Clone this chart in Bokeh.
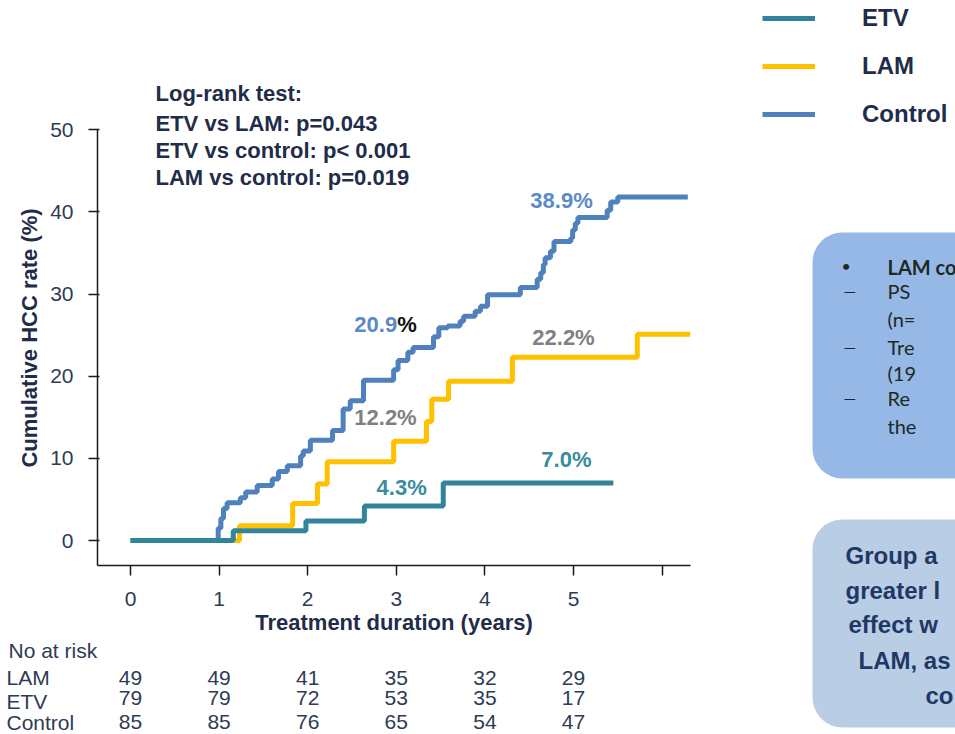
from bokeh.plotting import figure
from bokeh.layouts import row, column
from bokeh.models import (Range1d, Label, LabelSet, ColumnDataSource, BoxAnnotation,
                          Legend, LegendItem, FixedTicker)
from bokeh.core.properties import value
from bokeh.embed import file_html
from bokeh.resources import INLINE

# ---------------- data ----------------
# Cumulative HCC rate (%) step curves: event times (years) and cumulative rates
etv_t = [0, 1.16, 1.98, 2.64, 3.53, 5.45]
etv_y = [0, 1.2, 2.4, 4.2, 7.0, 7.0]

lam_t = [0, 1.23, 1.83, 2.11, 2.22, 2.97, 3.34, 3.40, 3.59, 4.31, 5.72, 6.32]
lam_y = [0, 1.8, 4.5, 6.9, 9.6, 12.1, 14.5, 17.2, 19.4, 22.3, 25.1, 25.1]

ctrl_t = [0, 0.99, 1.02, 1.05, 1.09, 1.24, 1.30, 1.43, 1.60, 1.67, 1.77, 1.92, 1.95,
          2.03, 2.28, 2.40, 2.48, 2.63, 2.97, 3.02, 3.13, 3.19, 3.42, 3.48, 3.58,
          3.72, 3.76, 3.89, 3.95, 4.03, 4.40, 4.59, 4.63, 4.66, 4.68, 4.74, 4.78,
          4.97, 4.99, 5.02, 5.05, 5.38, 5.42, 5.50, 6.29]
ctrl_y = [0, 1.5, 2.7, 3.9, 4.6, 5.2, 5.9, 6.7, 7.5, 8.4, 9.1, 10.3, 10.9,
          12.2, 13.4, 16.0, 17.0, 19.5, 20.8, 21.9, 22.9, 23.5, 24.8, 25.9, 26.1,
          26.7, 27.3, 27.9, 28.5, 29.9, 30.8, 31.8, 32.6, 33.6, 34.4, 35.2, 36.4,
          36.8, 37.8, 38.6, 39.3, 40.2, 41.2, 41.8, 41.8]

x_ticks = [0, 1, 2, 3, 4, 5, 6]
y_ticks = [0, 10, 20, 30, 40, 50]

years = [0, 1, 2, 3, 4, 5]
risk_lam = [49, 49, 41, 35, 32, 29]
risk_etv = [79, 79, 72, 53, 35, 17]
risk_ctrl = [85, 85, 76, 65, 54, 47]

# ---------------- style / layout constants ----------------
FONT = "Liberation Sans"
NAVY = "#1F2D4A"
TICKC = "#2E3B55"
C_CTRL = "#4F81BD"
C_LAM = "#FFC000"
C_ETV = "#31849B"
NAN = float("nan")

W, H = 955, 734
LEFT_W = 758           # width of the left column (chart); right column is the slide side panel
TOP_H = 110            # strip above the chart frame
TABLE_TOP = 637        # where the "No at risk" strip starts
X0, PXY = 130, 88.6    # page x of year 0, pixels per year
Y0, PXP = 542, 8.256   # page y of 0 %, pixels per percent
FR_L, FR_R, FR_B = 97, 690, 567   # chart frame edges on the page


def xdat(px):
    return (px - X0) / PXY


def ydat(py):
    return (Y0 - py) / PXP


def blank(w, h, xr=(0, 1)):
    f = figure(width=w, height=h, output_backend="svg", toolbar_location=None,
               x_range=Range1d(*xr), y_range=Range1d(0, 1),
               x_axis_type=None, y_axis_type=None,
               min_border_left=0, min_border_right=0, min_border_top=0, min_border_bottom=0)
    f.outline_line_color = None
    f.grid.visible = False
    f.background_fill_color = "white"
    f.border_fill_color = "white"
    return f


def lab(fig, x, y, text, color, size="22px", style="bold", align="left", units="data", font=FONT):
    fig.add_layout(Label(x=x, y=y, text=text, x_units=units, y_units=units,
                         text_color=color, text_font_size=size, text_font_style=style,
                         text_align=align, text_baseline="middle", text_font=font))


# ---------------- main chart ----------------
main_h = TABLE_TOP - TOP_H
p = figure(width=LEFT_W, height=main_h, output_backend="svg", toolbar_location=None,
           x_range=Range1d(xdat(FR_L), xdat(FR_R)),
           y_range=Range1d(ydat(FR_B), ydat(TOP_H)),
           min_border_left=FR_L, min_border_right=LEFT_W - FR_R,
           min_border_top=0, min_border_bottom=TABLE_TOP - FR_B)
p.outline_line_color = None
p.grid.visible = False
p.background_fill_color = "white"
p.border_fill_color = "white"

p.xaxis.ticker = FixedTicker(ticks=x_ticks)
p.xaxis.major_label_overrides = {6: ""}
p.yaxis.ticker = FixedTicker(ticks=y_ticks)
p.yaxis.bounds = (ydat(FR_B), 50)
for ax in (p.xaxis, p.yaxis):
    ax.axis_line_color = "#1a1a1a"
    ax.axis_line_width = 1.5
    ax.major_tick_line_color = "#1a1a1a"
    ax.major_tick_line_width = 1.5
    ax.minor_tick_line_color = None
    ax.major_label_text_font = FONT
    ax.major_label_text_font_size = "21px"
    ax.major_label_text_color = TICKC
    ax.axis_label_text_font = FONT
    ax.axis_label_text_font_size = "22px"
    ax.axis_label_text_font_style = "bold"
    ax.axis_label_text_color = NAVY
p.xaxis.major_tick_out = 10
p.xaxis.major_tick_in = 0
p.xaxis.major_label_standoff = 16
p.xaxis.axis_label = "Treatment duration (years)"
p.xaxis.axis_label_standoff = 1
p.yaxis.major_tick_out = 9
p.yaxis.major_tick_in = 2
p.yaxis.major_label_standoff = 15
p.yaxis.axis_label = "Cumulative HCC rate (%)"
p.yaxis.axis_label_standoff = 5

r_ctrl = p.step(ctrl_t, ctrl_y, mode="after", line_color=C_CTRL, line_width=5)
r_lam = p.step(lam_t, lam_y, mode="after", line_color=C_LAM, line_width=5)
r_etv = p.step(etv_t, etv_y, mode="after", line_color=C_ETV, line_width=5)

# log-rank text (first line lives in the strip above)
lab(p, xdat(155), ydat(123), "ETV vs LAM: p=0.043", NAVY)
lab(p, xdat(155), ydat(150), "ETV vs control: p< 0.001", NAVY)
lab(p, xdat(155), ydat(177), "LAM vs control: p=0.019", NAVY)

# percentage annotations
lab(p, 4.865, 41.4, "38.9%", "#5B8AC8", align="center")
lab(p, 3.01, 26.3, "20.9", "#5B8AC8", align="right")
lab(p, 3.01, 26.3, "%", "#111111", align="left")
lab(p, 4.887, 24.7, "22.2%", "#808080", align="center")
lab(p, 2.878, 15.0, "12.2%", "#808080", align="center")
lab(p, 3.06, 6.5, "4.3%", "#3A8C9E", align="center")
lab(p, 4.92, 9.9, "7.0%", "#3A8C9E", align="center")

# ---------------- strip above ----------------
top = blank(LEFT_W, TOP_H)
lab(top, 155, TOP_H - 93, "Log-rank test:", NAVY, units="screen")

# ---------------- number-at-risk strip ----------------
tab_h = H - TABLE_TOP
tab = blank(LEFT_W, tab_h, xr=(xdat(0), xdat(LEFT_W)))
lab(tab, 8, H - 650, "No at risk", TICKC, size="21px", style="normal", units="screen")
lab(tab, 6, H - 677, "LAM", TICKC, size="21px", style="normal", units="screen")
lab(tab, 6, H - 701, "ETV", TICKC, size="21px", style="normal", units="screen")
lab(tab, 6, H - 722, "Control", TICKC, size="21px", style="normal", units="screen")
for vals, py in ((risk_lam, 677), (risk_etv, 697), (risk_ctrl, 721)):
    src = ColumnDataSource(dict(x=years, y=[H - py] * len(years), t=[str(v) for v in vals]))
    tab.add_layout(LabelSet(x="x", y="y", text="t", source=src, y_units="screen",
                            text_align="center", text_baseline="middle",
                            text_font=value(FONT), text_font_size="21px", text_color=TICKC))

# ---------------- right side panel (legend + slide boxes) ----------------
RW = W - LEFT_W
side = blank(RW, H)
g_etv = side.line([NAN], [NAN], line_color=C_ETV, line_width=5)
g_lam = side.line([NAN], [NAN], line_color=C_LAM, line_width=5)
g_ctrl = side.line([NAN], [NAN], line_color=C_CTRL, line_width=5)
legend = Legend(items=[LegendItem(label="ETV", renderers=[g_etv]),
                       LegendItem(label="LAM", renderers=[g_lam]),
                       LegendItem(label="Control", renderers=[g_ctrl])],
                location=(762 - LEFT_W, H - 128), orientation="vertical",
                glyph_width=53, glyph_height=28, label_height=28,
                label_standoff=47, spacing=20, padding=0, margin=0,
                border_line_color=None, background_fill_alpha=0,
                label_text_font=FONT, label_text_font_size="24px",
                label_text_font_style="bold", label_text_color=NAVY)
side.add_layout(legend)


def rx(px):
    return px - LEFT_W


def ry(py):
    return H - py


side.add_layout(BoxAnnotation(left=rx(812), right=rx(1000), top=ry(232), bottom=ry(478),
                              left_units="screen", right_units="screen",
                              top_units="screen", bottom_units="screen",
                              fill_color="#95B8E6", fill_alpha=1, line_color=None,
                              border_radius=30))
side.add_layout(BoxAnnotation(left=rx(812), right=rx(1000), top=ry(519), bottom=ry(727),
                              left_units="screen", right_units="screen",
                              top_units="screen", bottom_units="screen",
                              fill_color="#B9CDE5", fill_alpha=1, line_color=None,
                              border_radius=30))

BOXTXT = "#20291F"
lab(side, rx(841), ry(265), "\u2022", BOXTXT, size="16px", style="normal", units="screen", font="Lato")
lab(side, rx(887), ry(266), "LAM co", BOXTXT, size="20px", style="bold", units="screen", font="Lato")
for py, t in ((290, "PS"), (318, "(n="), (346, "Tre"), (372, "(19"), (397, "Re"), (425, "the")):
    lab(side, rx(887), ry(py), t, BOXTXT, size="20px", style="normal", units="screen", font="Lato")
for py in (290, 346, 397):
    lab(side, rx(843), ry(py), "\u2014", BOXTXT, size="16px", style="normal", units="screen", font="Lato")

BOX2 = "#1F3864"
for px, py, t in ((845, 555, "Group a"), (845, 590, "greater l"), (848, 624, "effect w"),
                  (858, 660, "LAM, as"), (925, 695, "co")):
    lab(side, rx(px), ry(py), t, BOX2, size="24px", style="bold", units="screen")

layout = row(column(row(top), p, row(tab)), side)
open("out.html", "w").write(file_html(layout, INLINE))
